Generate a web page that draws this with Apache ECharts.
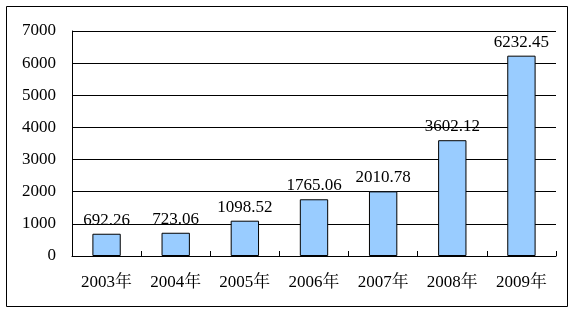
<!DOCTYPE html>
<html>
<head>
<meta charset="utf-8">
<script src="https://cdn.jsdelivr.net/npm/echarts@6/dist/echarts.min.js"></script>
<style>
html,body{margin:0;padding:0;background:#fff;}
#c{width:575px;height:313px;}
</style>
</head>
<body>
<div id="c"></div>
<script>
var categories = ['2003年','2004年','2005年','2006年','2007年','2008年','2009年'];
var values = [692.26, 723.06, 1098.52, 1765.06, 2010.78, 3602.12, 6232.45];
var yTicks = [0, 1000, 2000, 3000, 4000, 5000, 6000, 7000];

var FONT = "'SimSun','Liberation Serif','Noto Serif CJK SC','Noto Sans CJK SC',serif";
var chart = echarts.init(document.getElementById('c'), null, {renderer:'canvas'});
chart.setOption({
  animation: false,
  backgroundColor: '#fff',
  graphic: [{
    type: 'rect',
    shape: {x: 6.5, y: 6.5, width: 561, height: 300},
    style: {fill: 'none', stroke: '#000', lineWidth: 1},
    silent: true
  }],
  grid: {left: 72, right: 19, top: 31, bottom: 57, containLabel: false},
  xAxis: {
    type: 'category',
    data: categories,
    boundaryGap: true,
    axisLine: {show: true, lineStyle: {color: '#000', width: 1}},
    axisTick: {show: true, inside: true, length: 5, interval: 0, alignWithLabel: false, lineStyle: {color: '#000'}},
    axisLabel: {color: '#000', fontFamily: FONT, fontSize: 17, margin: 18, interval: 0, hideOverlap: false}
  },
  yAxis: {
    type: 'value',
    min: yTicks[0],
    max: yTicks[yTicks.length - 1],
    interval: 1000,
    axisLine: {show: true, lineStyle: {color: '#000', width: 1}},
    axisTick: {show: false},
    splitLine: {show: true, lineStyle: {color: '#000', width: 1}},
    axisLabel: {color: '#000', fontFamily: FONT, fontSize: 17, margin: 16,
      formatter: function(v){ return String(v); }}
  },
  series: [{
    type: 'bar',
    data: values,
    barWidth: '41%',
    itemStyle: {color: '#99CCFF', borderColor: '#000', borderWidth: 1},
    label: {
      show: true,
      position: 'top',
      distance: 5,
      color: '#000',
      fontFamily: FONT,
      fontSize: 17,
      formatter: function(p){ return p.value.toFixed(2); }
    }
  }]
});
</script>
</body>
</html>
